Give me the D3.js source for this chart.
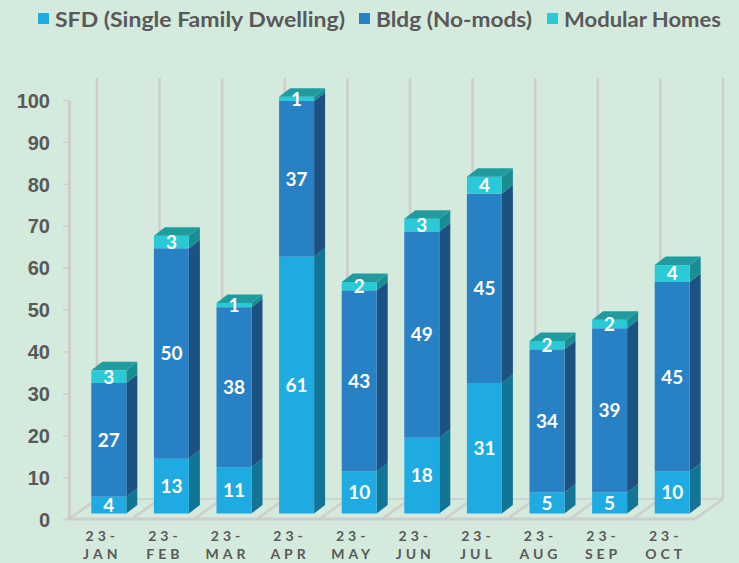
<!DOCTYPE html>
<html lang="en">
<head>
  <meta charset="UTF-8">
  <title>Permits by month</title>
  <script src="https://d3js.org/d3.v7.min.js"></script>
  <style>
    body { margin: 0; background: #d4eadc; }
    svg { display: block; font-family: Lato, "Open Sans", sans-serif; }
    .lbl { fill: #ffffff; font-weight: bold; font-size: 19px; }
    .axis text { fill: #595959; font-weight: bold; font-size: 20px; }
  </style>
</head>
<body>
<svg width="739" height="563"></svg>
<script>
  // data
  let categories = ["23-JAN", "23-FEB", "23-MAR", "23-APR", "23-MAY", "23-JUN", "23-JUL", "23-AUG", "23-SEP", "23-OCT"];
  let seriesNames = ["SFD (Single Family Dwelling)", "Bldg (No-mods)", "Modular Homes"];
  let sfd  = [4, 13, 11, 61, 10, 18, 31, 5, 5, 10];
  let bldg = [27, 50, 38, 37, 43, 49, 45, 34, 39, 45];
  let mods = [3, 3, 1, 1, 2, 3, 4, 2, 2, 4];
  let yTicks = [0, 10, 20, 30, 40, 50, 60, 70, 80, 90, 100];

  let front = ["#1eabe2", "#2880c5", "#29cad6"];
  let side  = ["#137595", "#1b5282", "#1a8d92"];
  let topC  = ["#168fb8", "#226aa5", "#209c9e"];

  let svg = d3.select("svg");

  // 3d geometry
  let depth = { dx: 28, dy: -20 };     // floor depth
  let bd = { dx: 11, dy: -8.5 };       // bar depth
  let off = { dx: 8.5, dy: -5.5 };     // bar front plane offset
  let barW = 35;

  let x = d3.scaleBand().domain(categories).range([69, 695]);
  let y = d3.scaleLinear().domain([0, 100]).range([519, 100]);
  let yBar = d3.scaleLinear().domain([0, 100]).range([513.5, 92.5]);

  let gridCol = "#cdcdcd";

  // back wall vertical gridlines
  let bounds = categories.map(c => x(c)).concat([x.range()[1]]);
  svg.append("g").selectAll("line").data(bounds).enter().append("line")
    .attr("x1", d => d + depth.dx).attr("x2", d => d + depth.dx)
    .attr("y1", y(100) + depth.dy - 2).attr("y2", y(0) + depth.dy)
    .attr("stroke", gridCol).attr("stroke-width", 2.5);

  // floor
  let floor = svg.append("g");
  floor.selectAll("line.diag").data(bounds).enter().append("line")
    .attr("x1", d => d).attr("y1", y(0))
    .attr("x2", d => d + depth.dx).attr("y2", y(0) + depth.dy)
    .attr("stroke", gridCol).attr("stroke-width", 2.5);
  floor.append("line")
    .attr("x1", x.range()[0] + depth.dx).attr("x2", x.range()[1] + depth.dx)
    .attr("y1", y(0) + depth.dy).attr("y2", y(0) + depth.dy)
    .attr("stroke", gridCol).attr("stroke-width", 1.5);
  floor.append("line")
    .attr("x1", x.range()[0] - 2).attr("x2", x.range()[1])
    .attr("y1", y(0)).attr("y2", y(0))
    .attr("stroke", gridCol).attr("stroke-width", 3);

  // y axis
  let yAxis = svg.append("g").attr("class", "axis")
    .attr("transform", "translate(69,0)")
    .call(d3.axisLeft(y).tickValues(yTicks).tickSize(6).tickSizeOuter(0).tickPadding(13));
  yAxis.select(".domain").attr("stroke", gridCol).attr("stroke-width", 3);
  yAxis.selectAll(".tick line").attr("stroke", gridCol).attr("stroke-width", 1.5);
  yAxis.selectAll("text").attr("dy", "0.36em");

  // stacked bars
  let stackData = categories.map((c, i) => ({ cat: c, s0: sfd[i], s1: bldg[i], s2: mods[i] }));
  let stacked = d3.stack().keys(["s0", "s1", "s2"])(stackData);

  function poly(pts) { return pts.map(p => p.join(",")).join(" "); }

  categories.forEach((c, i) => {
    let g = svg.append("g");
    let x0 = x(c) + off.dx + (x.bandwidth() - barW) / 2;
    let x1 = x0 + barW;
    stacked.forEach((layer, k) => {
      let v0 = layer[i][0], v1 = layer[i][1];
      if (v1 - v0 <= 0) return;
      let yb = yBar(v0), yt = yBar(v1);
      g.append("polygon")
        .attr("points", poly([[x1, yt], [x1 + bd.dx, yt + bd.dy], [x1 + bd.dx, yb + bd.dy], [x1, yb]]))
        .attr("fill", side[k]);
      g.append("rect")
        .attr("x", x0).attr("y", yt).attr("width", barW).attr("height", yb - yt)
        .attr("fill", front[k]);
      if (k === stacked.length - 1) {
        g.append("polygon")
          .attr("points", poly([[x0, yt], [x1, yt], [x1 + bd.dx, yt + bd.dy], [x0 + bd.dx, yt + bd.dy]]))
          .attr("fill", topC[k]);
      }
    });
    stacked.forEach((layer, k) => {
      let v0 = layer[i][0], v1 = layer[i][1];
      g.append("text").attr("class", "lbl")
        .attr("x", x0 + barW / 2)
        .attr("y", (yBar(v0) + yBar(v1)) / 2)
        .attr("dy", "0.36em")
        .attr("text-anchor", "middle")
        .text(v1 - v0);
    });
  });

  // x labels
  let xl = svg.append("g").selectAll("text").data(categories).enter().append("text")
    .attr("x", d => x(d) + x.bandwidth() / 2 + 2)
    .attr("text-anchor", "middle")
    .attr("fill", "#595959")
    .attr("font-weight", "bold")
    .attr("font-size", "14px")
    .attr("letter-spacing", "4px");
  xl.append("tspan").attr("x", d => x(d) + x.bandwidth() / 2 + 2).attr("y", 541)
    .text(d => d.split("-")[0] + "-");
  xl.append("tspan").attr("x", d => x(d) + x.bandwidth() / 2 + 2).attr("y", 559)
    .text(d => d.split("-")[1]);

  // legend
  let legX = [38, 359, 547];
  let legW = [290, 156, 157];
  let leg = svg.append("g").selectAll("g").data(seriesNames).enter().append("g");
  leg.append("rect")
    .attr("x", (d, i) => legX[i]).attr("y", 13).attr("width", 11).attr("height", 11)
    .attr("fill", (d, i) => front[i]);
  leg.append("text")
    .attr("x", (d, i) => legX[i] + 17).attr("y", 27)
    .attr("fill", "#595959").attr("font-weight", "bold").attr("font-size", "20px")
    .attr("textLength", (d, i) => legW[i]).attr("lengthAdjust", "spacingAndGlyphs")
    .text(d => d);
</script>
</body>
</html>
